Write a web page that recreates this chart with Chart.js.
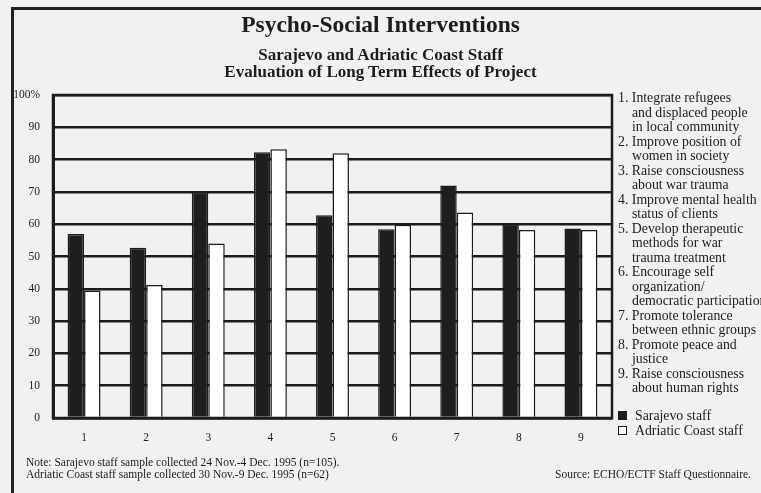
<!DOCTYPE html>
<html>
<head>
<meta charset="utf-8">
<script src="https://cdn.jsdelivr.net/npm/chart.js@4/dist/chart.umd.min.js"></script>
<style>
  html, body { margin:0; padding:0; }
  body { width:761px; height:493px; overflow:hidden; position:relative; background:#f1f1ef; font-family:"Liberation Serif", "Times New Roman", serif; color:#1c1c1c; }
  #frame { position:absolute; left:11px; top:7px; width:760px; height:500px; border-top:3px solid #222; border-left:3px solid #222; }
  canvas { position:absolute; left:0; top:0; }
  .abs { position:absolute; white-space:nowrap; }
  #title { left:0; width:761px; top:10px; text-align:center; font-weight:bold; font-size:23.5px; line-height:28px; }
  #subtitle { left:0; width:761px; top:46px; text-align:center; font-weight:bold; font-size:17px; line-height:17px; }
  #desc { left:618px; top:91px; font-size:13.8px; line-height:14.5px; }
  #desc .item { padding-left:14px; text-indent:-14px; }
  #legend { left:618px; top:408px; font-size:13.8px; line-height:15px; }
  #legend .li { position:relative; padding-left:17px; }
  #legend .sw { position:absolute; left:0; top:3px; width:9px; height:9px; box-sizing:border-box; border:1.5px solid #1a1a1a; }
  #note { left:26px; top:456px; font-size:11.5px; line-height:12px; }
  #source { right:10px; top:468px; font-size:11.5px; line-height:12px; }
</style>
</head>
<body>
<div id="frame"></div>
<canvas id="c" width="761" height="493"></canvas>
<div id="title" class="abs">Psycho-Social Interventions</div>
<div id="subtitle" class="abs">Sarajevo and Adriatic Coast Staff<br>Evaluation of Long Term Effects of Project</div>
<div id="desc" class="abs"></div>
<div id="legend" class="abs"></div>
<div id="note" class="abs">Note: Sarajevo staff sample collected 24 Nov.-4 Dec. 1995 (n=105).<br>Adriatic Coast staff sample collected 30 Nov.-9 Dec. 1995 (n=62)</div>
<div id="source" class="abs">Source: ECHO/ECTF Staff Questionnaire.</div>
<script>
const categories = ['1', '2', '3', '4', '5', '6', '7', '8', '9'];
const sarajevo = [57, 52.7, 70, 82.3, 62.8, 58.4, 72, 60, 58.7];
const adriatic = [39.5, 41.2, 54, 83.2, 82, 59.8, 63.6, 58.2, 58.2];
const seriesNames = ['Sarajevo staff', 'Adriatic Coast staff'];
const yTickLabels = ['0', '10', '20', '30', '40', '50', '60', '70', '80', '90', '100%'];
const descriptions = [
  ['Integrate refugees', 'and displaced people', 'in local community'],
  ['Improve position of', 'women in society'],
  ['Raise consciousness', 'about war trauma'],
  ['Improve mental health', 'status of clients'],
  ['Develop therapeutic', 'methods for war', 'trauma treatment'],
  ['Encourage self', 'organization/', 'democratic participation'],
  ['Promote tolerance', 'between ethnic groups'],
  ['Promote peace and', 'justice'],
  ['Raise consciousness', 'about human rights']
];

const ink = '#1c1c1c';
const fills = ['#1e1e1e', '#ffffff'];

// description list
const descEl = document.getElementById('desc');
descriptions.forEach((lines, i) => {
  const d = document.createElement('div');
  d.className = 'item';
  d.innerHTML = categories[i] + '. ' + lines.join('<br>');
  descEl.appendChild(d);
});

const frameBox = {
  id: 'frameBox',
  afterDatasetsDraw(chart) {
    const a = chart.chartArea, ctx = chart.ctx;
    ctx.save();
    ctx.strokeStyle = ink;
    ctx.lineWidth = 2.5;
    ctx.strokeRect(a.left, a.top, a.right - a.left, a.bottom - a.top);
    ctx.restore();
  }
};

const chart = new Chart(document.getElementById('c'), {
  type: 'bar',
  data: {
    labels: categories,
    datasets: [
      { label: seriesNames[0], data: sarajevo, backgroundColor: fills[0], borderColor: ink, borderWidth: 1.5 },
      { label: seriesNames[1], data: adriatic, backgroundColor: fills[1], borderColor: ink, borderWidth: 1.5 }
    ]
  },
  options: {
    responsive: false,
    animation: false,
    devicePixelRatio: 1,
    layout: { padding: { top: 95, right: 149, bottom: 45, left: 0 } },
    datasets: { bar: { categoryPercentage: 0.53, barPercentage: 1 } },
    plugins: { legend: { display: false }, tooltip: { enabled: false } },
    scales: {
      x: {
        grid: { display: false, drawTicks: false },
        border: { display: true, color: ink, width: 2.5 },
        ticks: { color: ink, padding: 13, font: { family: 'Liberation Serif', size: 11.5 } },
        afterFit(s) { s.height = 30; }
      },
      y: {
        min: 0, max: 100,
        grid: { color: ink, lineWidth: 2.5, drawTicks: false },
        border: { display: true, color: ink, width: 3 },
        ticks: {
          stepSize: 10, color: ink, padding: 13,
          font: { family: 'Liberation Serif', size: 11.5 },
          callback: (v, i) => yTickLabels[i]
        },
        afterFit(s) { s.width = 53; }
      }
    }
  },
  plugins: [frameBox]
});

// legend from datasets
const legEl = document.getElementById('legend');
chart.data.datasets.forEach(ds => {
  const li = document.createElement('div');
  li.className = 'li';
  const sw = document.createElement('span');
  sw.className = 'sw';
  sw.style.background = ds.backgroundColor;
  li.appendChild(sw);
  li.appendChild(document.createTextNode(ds.label));
  legEl.appendChild(li);
});
</script>
</body>
</html>
